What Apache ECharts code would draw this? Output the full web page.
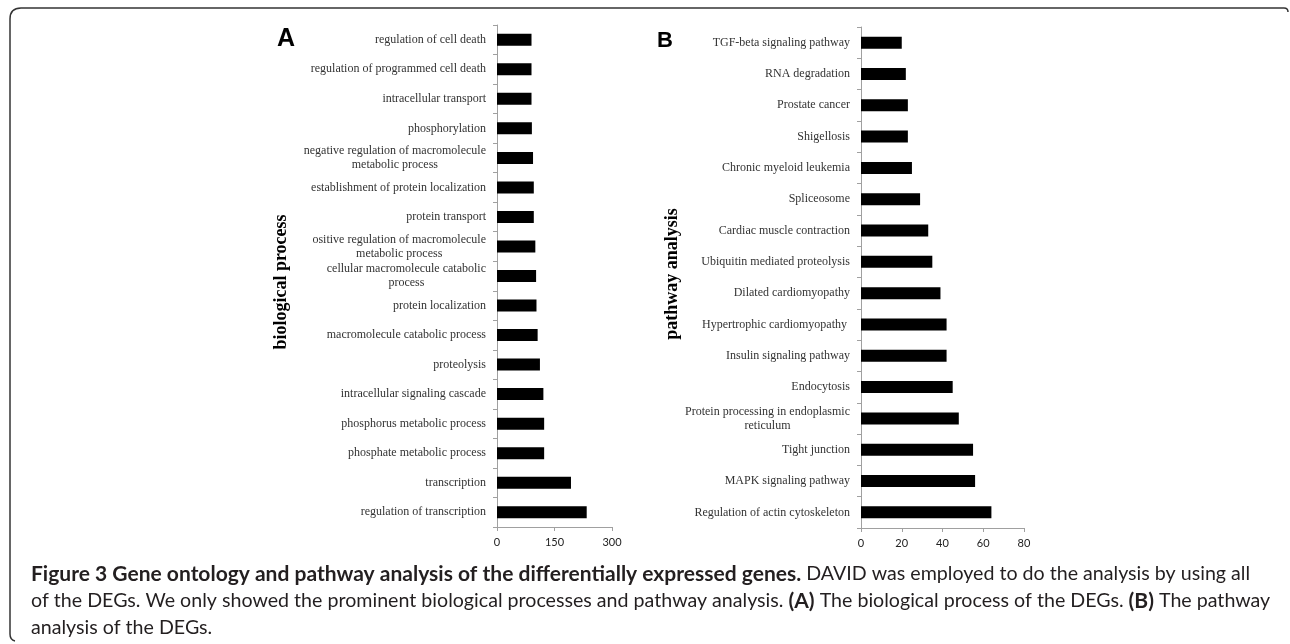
<!DOCTYPE html>
<html><head><meta charset="utf-8">
<script src="https://cdn.jsdelivr.net/npm/echarts/dist/echarts.min.js"></script>
<style>html,body{margin:0;padding:0;background:#fff}#c{width:1290px;height:644px}</style>
</head><body><div id="c"></div>
<script>
// ---- data (top to bottom as shown) ----
const bpCategories = [
  'regulation of cell death',
  'regulation of programmed cell death',
  'intracellular transport',
  'phosphorylation',
  'negative regulation of macromolecule\nmetabolic process',
  'establishment of protein localization',
  'protein transport',
  'ositive regulation of macromolecule\nmetabolic process',
  'cellular macromolecule catabolic\nprocess',
  'protein localization',
  'macromolecule catabolic process',
  'proteolysis',
  'intracellular signaling cascade',
  'phosphorus metabolic process',
  'phosphate metabolic process',
  'transcription',
  'regulation of transcription'
];
const bpValues = [90, 90, 90, 91, 94, 96, 96, 100, 102, 103, 106, 112, 121, 123, 123, 193, 234];
const bpTicks = [0, 150, 300];

const paCategories = [
  'TGF-beta signaling pathway',
  'RNA degradation',
  'Prostate cancer',
  'Shigellosis',
  'Chronic myeloid leukemia',
  'Spliceosome',
  'Cardiac muscle contraction',
  'Ubiquitin mediated proteolysis',
  'Dilated cardiomyopathy',
  'Hypertrophic cardiomyopathy ',
  'Insulin signaling pathway',
  'Endocytosis',
  'Protein processing in endoplasmic\nreticulum',
  'Tight junction',
  'MAPK signaling pathway',
  'Regulation of actin cytoskeleton'
];
const paValues = [20, 22, 23, 23, 25, 29, 33, 35, 39, 42, 42, 45, 48, 55, 56, 64];
const paTicks = [0, 20, 40, 60, 80];

const panelLetters = ['A', 'B'];
const axisNames = ['biological process', 'pathway analysis'];
const captionLines = [
  [['b', 'Figure 3 Gene ontology and pathway analysis of the differentially expressed genes.'], ['r', ' DAVID was employed to do the analysis by using all']],
  [['r', 'of the DEGs. We only showed the prominent biological processes and pathway analysis. '], ['b', '(A)'], ['r', ' The biological process of the DEGs. '], ['b', '(B)'], ['r', ' The pathway']],
  [['r', 'analysis of the DEGs.']]
];

// ---- caption font fit (to the reference's line widths) ----
const capFont = 'Lato';
const cv = document.createElement('canvas').getContext('2d');
function partsWidth(parts, kind, size) {
  let w = 0;
  parts.forEach(p => {
    if (p[0] !== kind) return;
    cv.font = (kind === 'b' ? 'bold ' : '') + size + 'px ' + capFont;
    w += cv.measureText(p[1]).width;
  });
  return w;
}
const capBoldSize = 100 * 771 / partsWidth([captionLines[0][0]], 'b', 100);
const capRegSize = 100 * (1240 - partsWidth(captionLines[1], 'b', capBoldSize)) / partsWidth(captionLines[1], 'r', 100);

const serif = "'Liberation Serif', 'Times New Roman', serif";
const axisGray = '#a0a0a0';

function catLabel(v) {
  return v.split('\n').map(s => '{c|' + s + '}').join('\n');
}

function catAxis(gridIndex, cats) {
  return {
    type: 'category', gridIndex: gridIndex, data: cats, inverse: true,
    axisLine: { lineStyle: { color: axisGray, width: 1 } },
    axisTick: { show: true, length: 4, lineStyle: { color: axisGray } },
    axisLabel: {
      margin: 11, interval: 0, formatter: catLabel,
      rich: { c: { align: 'center', fontFamily: serif, fontSize: 12, color: '#333', lineHeight: 14 } }
    }
  };
}
function valAxis(gridIndex, ticks) {
  return {
    type: 'value', gridIndex: gridIndex,
    min: ticks[0], max: ticks[ticks.length - 1], interval: ticks[1] - ticks[0],
    splitLine: { show: false },
    axisLine: { show: true, lineStyle: { color: axisGray, width: 1 } },
    axisTick: { show: true, length: 4, lineStyle: { color: axisGray } },
    axisLabel: { margin: 10, fontFamily: capFont, fontSize: 11, color: '#222' }
  };
}

const frameStyle = { fill: null, stroke: '#333', lineWidth: 1.5 };
const graphics = [
  { type: 'polyline', shape: { points: [[10, 634], [10, 19]] }, style: frameStyle, silent: true },
  { type: 'bezierCurve', shape: { x1: 10, y1: 19, cpx1: 10, cpy1: 8, x2: 21, y2: 8 }, style: frameStyle, silent: true },
  { type: 'polyline', shape: { points: [[21, 8], [1284, 8]] }, style: frameStyle, silent: true },
  { type: 'bezierCurve', shape: { x1: 1284, y1: 8, cpx1: 1288, cpy1: 8, x2: 1288, y2: 12 }, style: frameStyle, silent: true },
  { type: 'bezierCurve', shape: { x1: 10, y1: 634, cpx1: 10, cpy1: 640, x2: 15, y2: 641 }, style: frameStyle, silent: true },
  { type: 'text', x: 277, y: 39, style: { text: panelLetters[0], font: 'bold 25px "Liberation Sans", Arial, sans-serif', fill: '#000', textAlign: 'left', textVerticalAlign: 'middle' } },
  { type: 'text', x: 657, y: 40.5, style: { text: panelLetters[1], font: 'bold 22px "Liberation Sans", Arial, sans-serif', fill: '#000', textAlign: 'left', textVerticalAlign: 'middle' } },
  { type: 'text', x: 281, y: 282, rotation: Math.PI / 2, style: { text: axisNames[0], font: 'bold 18px ' + serif, fill: '#000', textAlign: 'center', textVerticalAlign: 'middle' } },
  { type: 'text', x: 672, y: 274, rotation: Math.PI / 2, style: { text: axisNames[1], font: 'bold 18px ' + serif, fill: '#000', textAlign: 'center', textVerticalAlign: 'middle' } }
];
const capY = [574, 601, 628];
captionLines.forEach((parts, i) => {
  graphics.push({
    type: 'text', x: 31, y: capY[i],
    style: {
      text: parts.map(p => '{' + p[0] + '|' + p[1] + '}').join(''),
      textAlign: 'left', textVerticalAlign: 'middle',
      rich: {
        b: { fontFamily: capFont, fontWeight: 'bold', fontSize: capBoldSize, fill: '#231f20' },
        r: { fontFamily: capFont, fontSize: capRegSize, fill: '#231f20' }
      }
    }
  });
});

const chart = echarts.init(document.getElementById('c'), null, { renderer: 'canvas' });
chart.setOption({
  animation: false,
  backgroundColor: '#fff',
  grid: [
    { left: 497, top: 25, width: 115, height: 502 },
    { left: 861, top: 27, width: 163, height: 501 }
  ],
  xAxis: [valAxis(0, bpTicks), valAxis(1, paTicks)],
  yAxis: [catAxis(0, bpCategories), catAxis(1, paCategories)],
  series: [
    { type: 'bar', xAxisIndex: 0, yAxisIndex: 0, data: bpValues, barWidth: 12, itemStyle: { color: '#000' }, silent: true },
    { type: 'bar', xAxisIndex: 1, yAxisIndex: 1, data: paValues, barWidth: 12, itemStyle: { color: '#000' }, silent: true }
  ],
  graphic: graphics
});
</script>
</body></html>
